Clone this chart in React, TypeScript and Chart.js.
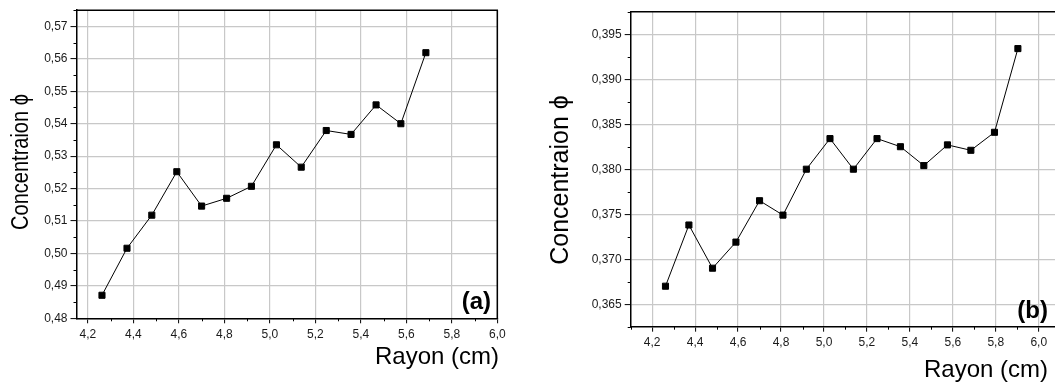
import { useEffect, useRef } from 'react';
import { Chart, registerables } from 'chart.js';

Chart.register(...registerables);

const FONT = '"Liberation Sans", Arial, "DejaVu Sans", sans-serif';

// ---- data: panel (a)
const radiusA = [4.262, 4.372, 4.481, 4.591, 4.700, 4.810, 4.919, 5.029, 5.138, 5.248, 5.357, 5.467, 5.576, 5.686];
const concA = [0.4871, 0.5016, 0.5118, 0.5252, 0.5146, 0.5170, 0.5207, 0.5335, 0.5266, 0.5379, 0.5367, 0.5458, 0.5400, 0.5619];
const xTicksA = [4.2, 4.4, 4.6, 4.8, 5.0, 5.2, 5.4, 5.6, 5.8, 6.0];
const yTicksA = [0.48, 0.49, 0.50, 0.51, 0.52, 0.53, 0.54, 0.55, 0.56, 0.57];

// ---- data: panel (b)
const radiusB = [4.262, 4.371, 4.481, 4.590, 4.700, 4.809, 4.918, 5.028, 5.137, 5.247, 5.356, 5.465, 5.575, 5.684, 5.794, 5.903];
const concB = [0.3670, 0.3738, 0.3690, 0.3719, 0.3765, 0.3749, 0.3800, 0.3834, 0.3800, 0.3834, 0.3825, 0.3804, 0.3827, 0.3821, 0.3841, 0.3934];
const xTicksB = [4.2, 4.4, 4.6, 4.8, 5.0, 5.2, 5.4, 5.6, 5.8, 6.0];
const yTicksB = [0.365, 0.370, 0.375, 0.380, 0.385, 0.390, 0.395];

const X_TITLE = 'Rayon (cm)';
const Y_TITLE = 'Concentraion ϕ';

const fmt = (v: number, d: number) => v.toFixed(d).replace('.', ',');

const minorsOf = (majors: number[], min: number, max: number) => {
  const step = majors[1] - majors[0];
  const out: number[] = [];
  const all = [majors[0] - step, ...majors];
  for (const m of all) {
    const v = m + step / 2;
    if (v >= min - 1e-9 && v <= max + 1e-9) out.push(v);
  }
  return out;
};

const decor = {
  id: 'decor',
  afterDraw(chart: any, _a: any, o: any) {
    const { ctx, chartArea: ca, scales } = chart;
    const x = scales.x;
    const y = scales.y;
    ctx.save();
    ctx.strokeStyle = '#000';
    ctx.lineWidth = 1.5;
    ctx.beginPath();
    ctx.moveTo(ca.left, ca.top);
    ctx.lineTo(ca.right, ca.top);
    ctx.lineTo(ca.right, ca.bottom);
    ctx.stroke();
    ctx.lineWidth = 1;
    ctx.beginPath();
    for (const v of o.xMinor) {
      const px = Math.round(x.getPixelForValue(v)) + 0.5;
      ctx.moveTo(px, ca.bottom);
      ctx.lineTo(px, ca.bottom + 3);
    }
    for (const v of o.yMinor) {
      const py = Math.round(y.getPixelForValue(v)) + 0.5;
      ctx.moveTo(ca.left, py);
      ctx.lineTo(ca.left - 3, py);
    }
    ctx.stroke();
    ctx.fillStyle = '#000';
    ctx.font = `24px ${FONT}`;
    ctx.textAlign = 'right';
    ctx.textBaseline = 'alphabetic';
    ctx.fillText(o.xTitle, o.xTitleX, o.xTitleY);
    ctx.font = `bold 24px ${FONT}`;
    ctx.fillText(o.label, o.labelX, o.labelY);
    ctx.translate(o.yTitleX, o.yTitleY);
    ctx.rotate(-Math.PI / 2);
    ctx.scale(o.yTitleStretch, 1);
    ctx.font = `${o.yTitleSize}px ${FONT}`;
    ctx.textAlign = 'center';
    ctx.textBaseline = 'middle';
    ctx.fillText(o.yTitle, 0, 0);
    ctx.restore();
  },
};

type PanelProps = {
  left: number;
  width: number;
  xs: number[];
  ys: number[];
  xTicks: number[];
  yTicks: number[];
  xMin: number;
  xMax: number;
  yMin: number;
  yMax: number;
  yDec: number;
  pad: { top: number; right: number };
  yWidth: number;
  xHeight: number;
  deco: any;
};

function Panel(p: PanelProps) {
  const ref = useRef<HTMLCanvasElement>(null);
  useEffect(() => {
    if (!ref.current) return;
    const chart = new Chart(ref.current, {
      type: 'line',
      data: {
        datasets: [
          {
            data: p.xs.map((v, i) => ({ x: v, y: p.ys[i] })),
            borderColor: '#000',
            borderWidth: 1,
            pointStyle: 'rect',
            pointRadius: 4.3,
            pointBackgroundColor: '#000',
            pointBorderColor: '#000',
            pointBorderWidth: 1,
            tension: 0,
            fill: false,
          },
        ],
      },
      options: {
        animation: false,
        responsive: true,
        maintainAspectRatio: false,
        layout: { padding: { top: p.pad.top, right: p.pad.right, left: 0, bottom: 0 } },
        plugins: {
          legend: { display: false },
          tooltip: { enabled: false },
          decor: {
            ...p.deco,
            xMinor: minorsOf(p.xTicks, p.xMin, p.xMax),
            yMinor: minorsOf(p.yTicks, p.yMin, p.yMax),
          },
        } as any,
        scales: {
          x: {
            type: 'linear',
            min: p.xMin,
            max: p.xMax,
            afterBuildTicks: (s: any) => {
              s.ticks = p.xTicks.map((v) => ({ value: v }));
            },
            afterFit: (s: any) => {
              s.height = p.xHeight;
            },
            ticks: {
              callback: (v: any) => fmt(Number(v), 1),
              color: '#1a1a1a',
              font: { family: FONT, size: 12 },
              padding: 4,
              maxRotation: 0,
              autoSkip: false,
            },
            grid: {
              color: '#c8c8c8',
              lineWidth: 1.2,
              tickColor: '#000',
              tickLength: 5,
              tickWidth: 1,
            },
            border: { color: '#000', width: 1.5 },
          },
          y: {
            type: 'linear',
            min: p.yMin,
            max: p.yMax,
            afterBuildTicks: (s: any) => {
              s.ticks = p.yTicks.map((v) => ({ value: v }));
            },
            afterFit: (s: any) => {
              s.width = p.yWidth;
            },
            ticks: {
              callback: (v: any) => fmt(Number(v), p.yDec),
              color: '#1a1a1a',
              font: { family: FONT, size: 12 },
              padding: 3,
              autoSkip: false,
            },
            grid: {
              color: '#c8c8c8',
              lineWidth: 1.2,
              tickColor: '#000',
              tickLength: 6,
              tickWidth: 1,
            },
            border: { color: '#000', width: 1.5 },
          },
        },
      },
      plugins: [decor],
    } as any);
    return () => chart.destroy();
  }, []);
  return (
    <div style={{ position: 'absolute', left: p.left, top: 0, width: p.width, height: 385 }}>
      <canvas ref={ref} />
    </div>
  );
}

export default function App() {
  return (
    <div
      style={{
        position: 'absolute',
        left: 0,
        top: 0,
        width: 1055,
        height: 385,
        overflow: 'hidden',
        background: '#fff',
      }}
    >
      <Panel
        left={0}
        width={520}
        xs={radiusA}
        ys={concA}
        xTicks={xTicksA}
        yTicks={yTicksA}
        xMin={4.15}
        xMax={6.0}
        yMin={0.48}
        yMax={0.575}
        yDec={2}
        pad={{ top: 9.3, right: 22.7 }}
        yWidth={76.5}
        xHeight={66.7}
        deco={{
          xTitle: X_TITLE,
          xTitleX: 499,
          xTitleY: 364,
          label: '(a)',
          labelX: 491,
          labelY: 309,
          yTitle: Y_TITLE,
          yTitleX: 22,
          yTitleY: 162,
          yTitleSize: 23,
          yTitleStretch: 0.87,
        }}
      />
      <Panel
        left={540}
        width={540}
        xs={radiusB}
        ys={concB}
        xTicks={xTicksB}
        yTicks={yTicksB}
        xMin={4.1}
        xMax={6.1}
        yMin={0.3625}
        yMax={0.3975}
        yDec={3}
        pad={{ top: 11.7, right: 19.8 }}
        yWidth={90.7}
        xHeight={58.3}
        deco={{
          xTitle: X_TITLE,
          xTitleX: 508,
          xTitleY: 377,
          label: '(b)',
          labelX: 508,
          labelY: 318,
          yTitle: Y_TITLE,
          yTitleX: 21,
          yTitleY: 180,
          yTitleSize: 25,
          yTitleStretch: 1.0,
        }}
      />
    </div>
  );
}
